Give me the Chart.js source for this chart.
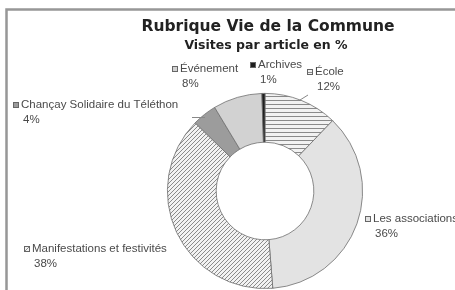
<!DOCTYPE html>
<html>
<head>
<meta charset="utf-8">
<script src="https://cdn.jsdelivr.net/npm/chart.js@4/dist/chart.umd.min.js"></script>
<style>
  body { margin: 0; background: #fff; }
  #chartHolder { display: block; }
</style>
</head>
<body>
<canvas id="chartHolder" width="455" height="290"></canvas>
<script>
const chartHolder = document.getElementById("chartHolder");

// data (the Archives slice is drawn thinner than 1%, label rounds it)
const categories = ["École", "Les associations", "Manifestations et festivités", "Chançay Solidaire du Téléthon", "Événement", "Archives"];
const percents = [12, 36, 38, 4, 8, 0.5];

const titleText = "Rubrique Vie de la Commune";
const subtitleText = "Visites par article en %";

// where each label block sits (legend key left, first line middle)
const labelAt = [[307, 72], [365, 219], [24, 249], [13, 105], [172, 69], [250, 65]];


function stripes(kind)
{
    const c = document.createElement("canvas");
    c.width = 4;
    c.height = 4;
    const g = c.getContext("2d");
    g.fillStyle = "#f2f2f2";
    g.fillRect(0, 0, 4, 4);
    g.strokeStyle = "#8a8a8a";
    g.lineWidth = 1;
    g.beginPath();
    if (kind == "h")
    {
        g.moveTo(0, 0.5);
        g.lineTo(4, 0.5);
    }
    else
    {
        // "///" lines
        g.moveTo(0, 4);
        g.lineTo(4, 0);
        g.moveTo(-1, 1);
        g.lineTo(1, -1);
        g.moveTo(3, 5);
        g.lineTo(5, 3);
    }
    g.stroke();
    return g.createPattern(c, "repeat");
}

const fills = [stripes("h"), "#e3e3e3", stripes("d"), "#9c9c9c", "#d2d2d2", "#1e1e1e"];


const decorations = {
    id: "decorations",
    beforeDraw(chart)
    {
        const ctx = chart.ctx;
        ctx.save();
        ctx.fillStyle = "#fff";
        ctx.fillRect(0, 0, chart.width, chart.height);
        // frame
        ctx.strokeStyle = "#979797";
        ctx.lineWidth = 2.5;
        ctx.beginPath();
        ctx.moveTo(6.5, chart.height + 5);
        ctx.lineTo(6.5, 9.5);
        ctx.lineTo(chart.width + 5, 9.5);
        ctx.stroke();
        ctx.restore();
    },
    afterDraw(chart)
    {
        const ctx = chart.ctx;
        ctx.save();
        ctx.textAlign = "center";
        ctx.textBaseline = "middle";
        ctx.fillStyle = "#222";
        ctx.font = "bold 15.5px 'DejaVu Sans'";
        ctx.fillText(titleText, 268, 27);
        ctx.font = "bold 12.5px 'DejaVu Sans'";
        ctx.fillText(subtitleText, 266, 46);

        // leader lines
        ctx.strokeStyle = "#888";
        ctx.lineWidth = 1;
        ctx.beginPath();
        ctx.moveTo(300, 100);
        ctx.lineTo(308, 95);
        ctx.moveTo(192, 117.5);
        ctx.lineTo(205, 117.5);
        ctx.stroke();

        ctx.textAlign = "left";
        ctx.font = "11.5px 'Liberation Sans'";
        categories.forEach((name, i) => {
            const [x, y] = labelAt[i];
            ctx.fillStyle = fills[i];
            ctx.fillRect(x, y - 3, 6, 6);
            ctx.strokeStyle = "#666";
            ctx.strokeRect(x + 0.5, y - 2.5, 5, 5);
            ctx.fillStyle = "#4a4a4a";
            ctx.fillText(name, x + 8, y);
            ctx.fillText(Math.round(percents[i]) + "%", x + 10, y + 15);
        });
        ctx.restore();
    }
};


new Chart(chartHolder, {
    type: "doughnut",
    data: {
        labels: categories,
        datasets: [{
            data: percents,
            backgroundColor: fills,
            borderColor: "#6e6e6e",
            borderWidth: 0.8
        }]
    },
    options: {
        responsive: false,
        animation: false,
        cutout: "50%",
        layout: {
            padding: { left: 167, right: 92, top: 93, bottom: 1 }
        },
        plugins: {
            legend: { display: false },
            tooltip: { enabled: false },
            title: { display: false }
        }
    },
    plugins: [decorations]
});
</script>
</body>
</html>
